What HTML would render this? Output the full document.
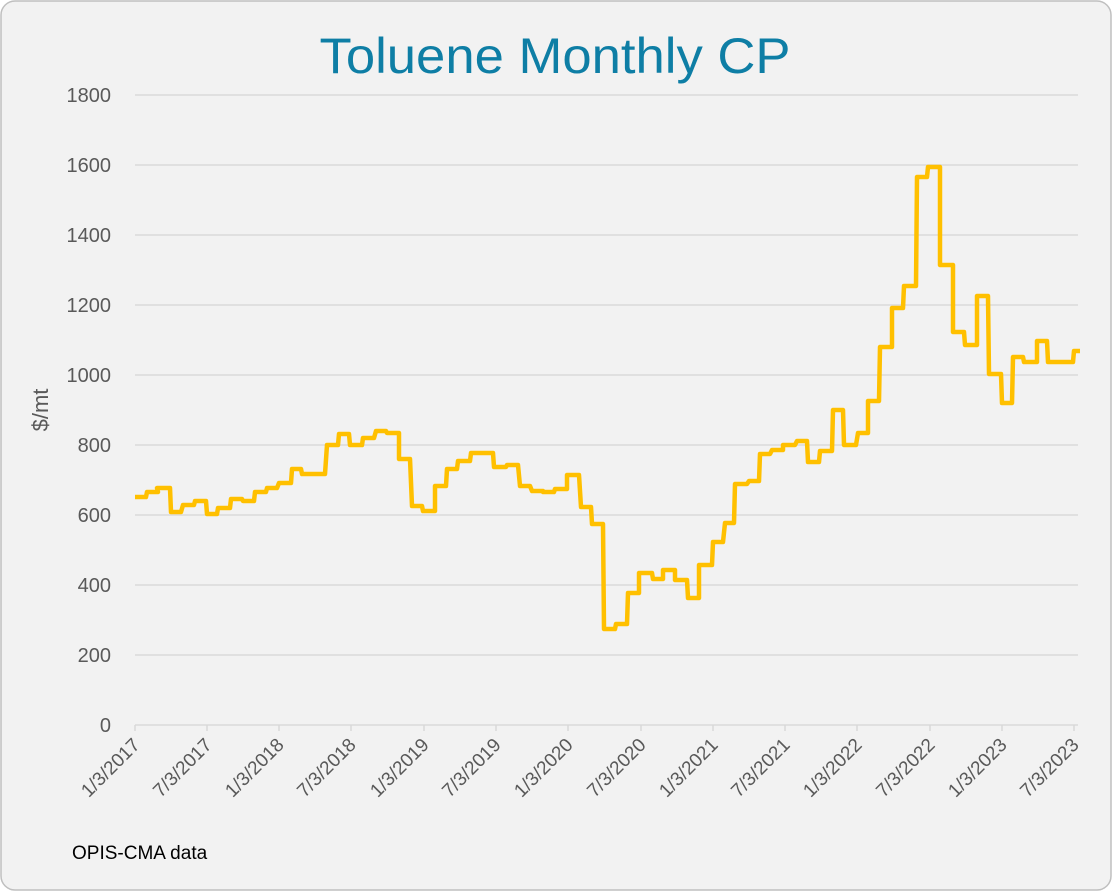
<!DOCTYPE html>
<html><head><meta charset="utf-8"><style>
html,body{margin:0;padding:0;background:#fff;}
svg{display:block;font-family:"Liberation Sans",sans-serif;}
</style></head><body>
<svg width="1112" height="892" viewBox="0 0 1112 892" xmlns="http://www.w3.org/2000/svg">
<rect x="1" y="1" width="1110" height="889" rx="14" ry="14" fill="#f2f2f2" stroke="#bfbfbf" stroke-width="1.5"/>
<text x="555" y="73" text-anchor="middle" font-size="50" fill="#0e7ea5" textLength="471" lengthAdjust="spacingAndGlyphs">Toluene Monthly CP</text>
<g stroke="#d9d9d9" stroke-width="1.5">
<line x1="135" y1="95" x2="1078" y2="95"/>
<line x1="135" y1="165" x2="1078" y2="165"/>
<line x1="135" y1="235" x2="1078" y2="235"/>
<line x1="135" y1="305" x2="1078" y2="305"/>
<line x1="135" y1="375" x2="1078" y2="375"/>
<line x1="135" y1="445" x2="1078" y2="445"/>
<line x1="135" y1="515" x2="1078" y2="515"/>
<line x1="135" y1="585" x2="1078" y2="585"/>
<line x1="135" y1="655" x2="1078" y2="655"/>
<line x1="135" y1="725" x2="1078" y2="725"/>
<line x1="135" y1="725" x2="135" y2="731"/><line x1="207" y1="725" x2="207" y2="731"/>
<line x1="279" y1="725" x2="279" y2="731"/><line x1="351" y1="725" x2="351" y2="731"/>
<line x1="424" y1="725" x2="424" y2="731"/><line x1="496" y1="725" x2="496" y2="731"/>
<line x1="568" y1="725" x2="568" y2="731"/><line x1="641" y1="725" x2="641" y2="731"/>
<line x1="713" y1="725" x2="713" y2="731"/><line x1="785" y1="725" x2="785" y2="731"/>
<line x1="857" y1="725" x2="857" y2="731"/><line x1="930" y1="725" x2="930" y2="731"/>
<line x1="1002" y1="725" x2="1002" y2="731"/><line x1="1074" y1="725" x2="1074" y2="731"/>
</g>
<g font-size="20" fill="#595959" text-anchor="end">
<text x="111" y="102">1800</text><text x="111" y="172">1600</text><text x="111" y="242">1400</text>
<text x="111" y="312">1200</text><text x="111" y="382">1000</text><text x="111" y="452">800</text>
<text x="111" y="522">600</text><text x="111" y="592">400</text><text x="111" y="662">200</text>
<text x="111" y="732">0</text>
</g>
<text transform="translate(48,410) rotate(-90)" text-anchor="middle" font-size="22" fill="#595959">$/mt</text>
<g font-size="19" fill="#595959" text-anchor="end">
<text transform="translate(141,746) rotate(-45)">1/3/2017</text>
<text transform="translate(213,746) rotate(-45)">7/3/2017</text>
<text transform="translate(285,746) rotate(-45)">1/3/2018</text>
<text transform="translate(357,746) rotate(-45)">7/3/2018</text>
<text transform="translate(430,746) rotate(-45)">1/3/2019</text>
<text transform="translate(502,746) rotate(-45)">7/3/2019</text>
<text transform="translate(574,746) rotate(-45)">1/3/2020</text>
<text transform="translate(647,746) rotate(-45)">7/3/2020</text>
<text transform="translate(719,746) rotate(-45)">1/3/2021</text>
<text transform="translate(791,746) rotate(-45)">7/3/2021</text>
<text transform="translate(863,746) rotate(-45)">1/3/2022</text>
<text transform="translate(936,746) rotate(-45)">7/3/2022</text>
<text transform="translate(1008,746) rotate(-45)">1/3/2023</text>
<text transform="translate(1080,746) rotate(-45)">7/3/2023</text>
</g>
<text x="72" y="859" font-size="19" fill="#000">OPIS-CMA data</text>
<polyline fill="none" stroke="#ffc000" stroke-width="4.5" stroke-linejoin="round" points="135,497 146,497 147,492 158,492 157,488 170,488 171,512 181,512 183,505 194,505 195,501 206,501 207,514 217,514 218,508 230,508 231,499 242,499 243,501 254,501 255,492 266,492 267,488 277,488 279,483 291,483 292,469 301,469 302,474 325,474 327,445 338,445 339,434 349,434 350,445 362,445 363,438 374,438 376,431 386,431 387,433 399,433 399,459 410,459 412,506 422,506 423,511 435,511 435,486 446,486 447,469 457,469 458,461 470,461 471,453 493,453 494,467 506,467 507,465 518,465 520,486 530,486 532,491 543,491 543,492 554,492 555,489 567,489 567,475 579,475 581,507 591,507 592,524 603,524 604,629 615,629 616,624 627,624 628,593 639,593 639,573 652,573 653,579 663,579 663,570 675,570 675,580 687,580 688,598 699,598 699,565 712,565 713,542 723,542 725,523 734,523 735,484 747,484 749,481 759,481 760,454 770,454 772,450 783,450 783,445 795,445 797,441 807,441 808,462 819,462 820,451 832,451 833,410 843,410 844,445 856,445 858,433 868,433 868,401 879,401 880,347 892,347 892,308 903,308 904,286 916,286 917,177 927,177 928,167 940,167 940,265 953,265 953,332 964,332 965,345 977,345 977,296 988,296 989,374 1001,374 1002,403 1012,403 1013,357 1023,357 1024,362 1037,362 1037,341 1047,341 1048,362 1073,362 1074,351 1080,351"/>
</svg>
</body></html>
